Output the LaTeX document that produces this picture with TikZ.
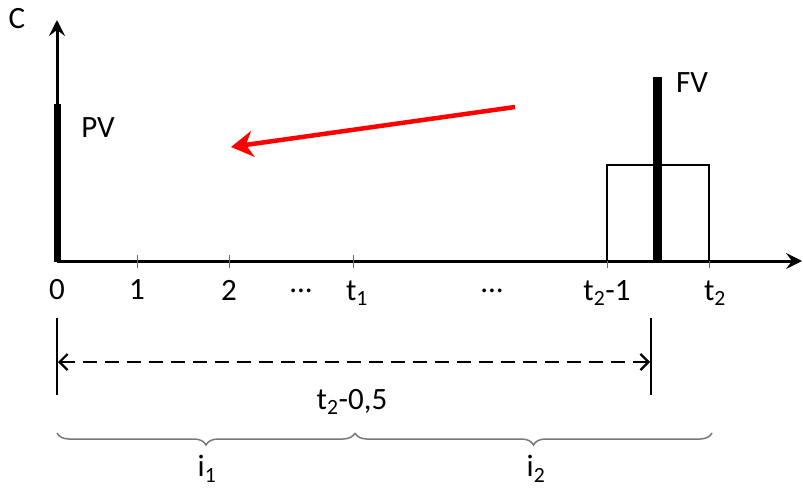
\documentclass[tikz,border=0pt]{standalone}
\usepackage{fontspec}
\setmainfont{Carlito}
\usetikzlibrary{arrows.meta,decorations.pathreplacing}
\begin{document}
\begin{tikzpicture}[x=1pt,y=-1pt,
  lbl/.style={inner sep=0pt,font=\fontsize{31}{34}\selectfont},
  axisline/.style={line width=3pt},
  tickline/.style={draw={rgb,255:red,70;green,110;blue,190},line width=0.8pt},
  bar/.style={line width=7.5pt},
  bracestyle/.style={draw={rgb,255:red,120;green,120;blue,120},line width=1.5pt,decorate,decoration={brace,mirror,amplitude=12pt,aspect=0.5}}]
\useasboundingbox (0,0) rectangle (803,503);
% axes
\coordinate (O) at (57,261);
\coordinate (Ytop) at (57,20);
\coordinate (Xend) at (802,261);
\draw[axisline,-{Stealth[length=16pt,width=16pt,inset=6pt]}] (O) -- (Ytop);
\draw[axisline,-{Stealth[length=16pt,width=16pt,inset=6pt]}] (O) -- (Xend);
\node[lbl] (C) at (17,19) {C};
% ticks
\foreach \n/\x in {t1/137,t2/229,tt1/353,tt21/607,tt2/709}{
  \coordinate (\n a) at (\x,255);
  \coordinate (\n b) at (\x,268);
  \draw[tickline] (\n a) -- (\n b);
}
% tick labels
\node[lbl] (l0) at (57,290) {0};
\node[lbl] (l1) at (137,290) {1};
\node[lbl] (l2) at (229,290) {2};
\node[lbl] (d1) at (301,291) {...};
\node[lbl] (lt1) at (357,293) {t\textsubscript{1}};
\node[lbl] (d2) at (492,291) {...};
\node[lbl] (lt21) at (607,293) {t\textsubscript{2}-1};
\node[lbl] (lt2) at (715,293) {t\textsubscript{2}};
% rectangle
\coordinate (R1) at (607,261);
\coordinate (R2) at (709,165);
\draw[line width=1.3pt] (R1) |- (R2) -- (709,261);
% PV bar
\coordinate (PVb) at (57.5,262);
\coordinate (PVt) at (57.5,104);
\draw[bar] (PVb) -- (PVt);
\node[lbl] (PV) at (98,128) {PV};
% FV bar
\coordinate (FVb) at (657,262);
\coordinate (FVt) at (657,77);
\draw[line width=9pt] (FVb) -- (FVt);
\node[lbl] (FV) at (692,83) {FV};
% red arrow
\coordinate (Ra) at (515,107);
\coordinate (Rb) at (231,147);
\draw[red,line width=4.5pt,-{Stealth[length=22pt,width=26pt,inset=7pt]}] (Ra) -- (Rb);
% dimension
\coordinate (D1t) at (57,318);
\coordinate (D1b) at (57,395);
\coordinate (D2t) at (651,318);
\coordinate (D2b) at (651,395);
\draw[line width=2.2pt] (D1t) -- (D1b);
\draw[line width=2.2pt] (D2t) -- (D2b);
\coordinate (Da) at (58,362);
\coordinate (Db) at (650,362);
\draw[line width=2.2pt,dash pattern=on 14pt off 8pt,{Straight Barb[length=8pt,width=16pt]}-{Straight Barb[length=8pt,width=16pt]}] (Da) -- (Db);
\node[lbl] (dim) at (352,402) {t\textsubscript{2}-0,5};
% braces
\coordinate (B0) at (57,433);
\coordinate (B1) at (355,433);
\coordinate (B2) at (712,433);
\draw[bracestyle] (B0) -- (B1);
\draw[bracestyle] (B1) -- (B2);
\node[lbl] (i1) at (207,469) {i\textsubscript{1}};
\node[lbl] (i2) at (536,469) {i\textsubscript{2}};
\end{tikzpicture}
\end{document}
